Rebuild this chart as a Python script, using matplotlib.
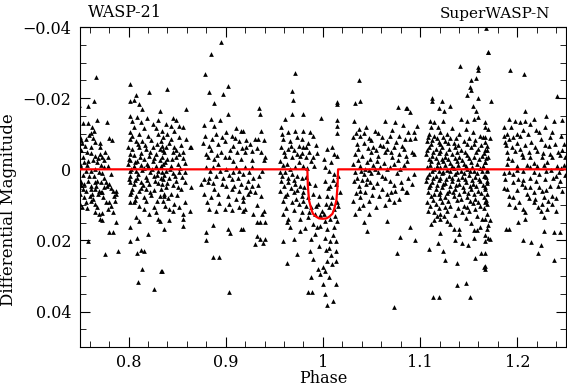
import numpy as np
import matplotlib
matplotlib.use("Agg")
import matplotlib.pyplot as plt
from matplotlib.ticker import MultipleLocator, FuncFormatter

# (phase, differential magnitude in mmag), night by night
night1 = [(0.767, -25.9), (0.764, -19.2), (0.758, -17.8), (0.749, -18.2), (0.753, -13.1), (0.758, -13.1),
          (0.762, -12.0), (0.768, -13.9), (0.778, -13.2), (0.764, -10.9), (0.750, -9.0), (0.751, -8.3),
          (0.761, -10.1), (0.763, -8.8), (0.756, -8.5), (0.755, -6.5), (0.761, -6.4), (0.771, -7.3),
          (0.771, -6.4), (0.780, -8.8), (0.783, -8.3), (0.751, -5.3), (0.757, -4.8), (0.761, -4.7),
          (0.749, -3.4), (0.753, -3.4), (0.754, -2.0), (0.758, -2.4), (0.766, -3.8), (0.769, -3.2),
          (0.773, -3.4), (0.775, -2.6), (0.779, -3.6), (0.768, -2.0), (0.772, -1.3), (0.775, -0.6),
          (0.751, -0.6), (0.756, 0.4), (0.761, 0.4), (0.766, -0.1), (0.770, 0.8), (0.773, 1.1),
          (0.782, 1.3), (0.749, 2.3), (0.751, 3.7), (0.754, 4.1), (0.758, 3.2), (0.761, 4.6),
          (0.765, 3.7), (0.768, 3.2), (0.772, 3.7), (0.777, 3.7), (0.780, 4.1), (0.749, 5.1),
          (0.753, 5.5), (0.756, 6.0), (0.761, 5.5), (0.765, 5.5), (0.770, 6.0), (0.772, 6.5),
          (0.775, 5.1), (0.778, 4.6), (0.784, 6.0), (0.787, 6.0), (0.750, 6.9), (0.754, 7.9),
          (0.760, 7.4), (0.763, 8.4), (0.769, 6.9), (0.773, 6.5), (0.785, 7.4), (0.787, 6.9),
          (0.756, 9.3), (0.761, 8.8), (0.765, 9.8), (0.777, 9.3), (0.780, 9.3), (0.782, 10.2),
          (0.750, 9.8), (0.752, 10.7), (0.766, 12.1), (0.770, 12.6), (0.773, 12.4), (0.784, 12.1),
          (0.771, 14.0), (0.773, 14.3), (0.787, 14.9), (0.780, 17.7), (0.784, 17.7), (0.758, 20.1),
          (0.776, 23.9), (0.789, 22.9),
          (0.752, -7.5), (0.759, -9.6), (0.765, -7.6), (0.776, -5.0), (0.750, -1.6), (0.757, -1.2),
          (0.763, -2.5), (0.771, -4.4), (0.779, -1.0), (0.753, 1.5), (0.759, 1.8), (0.764, 2.0),
          (0.775, 2.4), (0.751, 4.5), (0.762, 6.8), (0.767, 4.6), (0.774, 7.8), (0.782, 5.2),
          (0.757, 11.0), (0.768, 10.5), (0.779, 11.2), (0.786, 9.0)]

night2 = [(0.801, -23.9), (0.821, -21.7), (0.808, -20.8), (0.802, -19.3), (0.806, -19.5), (0.811, -18.4),
          (0.814, -17.0), (0.802, -15.1), (0.809, -14.6), (0.819, -14.5), (0.832, -16.5), (0.830, -13.9),
          (0.804, -13.7), (0.813, -13.2), (0.825, -12.8), (0.806, -11.8), (0.816, -11.6), (0.828, -11.6),
          (0.801, -10.4), (0.811, -10.0), (0.820, -9.5), (0.830, -10.0), (0.802, -8.5), (0.808, -8.1),
          (0.814, -7.9), (0.823, -8.3), (0.833, -8.1), (0.799, -6.2), (0.804, -5.7), (0.811, -6.4),
          (0.818, -5.7), (0.825, -6.2), (0.832, -5.7), (0.801, -4.3), (0.806, -4.1), (0.813, -4.5),
          (0.821, -3.8), (0.828, -4.3), (0.802, -2.6), (0.809, -2.4), (0.816, -2.9), (0.825, -2.4),
          (0.832, -2.6), (0.799, -1.5), (0.806, -1.0), (0.813, -1.3), (0.820, -0.8), (0.828, -1.0),
          (0.801, 0.4), (0.808, 0.6), (0.814, 0.2), (0.822, 0.8), (0.830, 0.6), (0.802, 1.8),
          (0.809, 2.3), (0.818, 2.1), (0.826, 1.8), (0.833, 2.3), (0.801, 3.7), (0.806, 4.1),
          (0.813, 3.7), (0.821, 4.1), (0.830, 3.9), (0.804, 5.5), (0.811, 6.0), (0.818, 5.4),
          (0.826, 5.8), (0.801, 6.9), (0.808, 7.4), (0.816, 7.9), (0.823, 7.1), (0.832, 7.4),
          (0.801, 9.3), (0.806, 9.3), (0.811, 10.2), (0.816, 11.2), (0.821, 12.6), (0.828, 12.1),
          (0.830, 14.0), (0.808, 13.5), (0.811, 14.5), (0.801, 16.3), (0.820, 18.2), (0.809, 19.2),
          (0.801, 20.1), (0.813, 22.7), (0.816, 22.9), (0.809, 23.4), (0.814, 28.1), (0.833, 28.5),
          (0.810, 31.8), (0.826, 33.7),
          (0.840, -22.6), (0.859, -17.0), (0.846, -14.5), (0.849, -13.9), (0.839, -12.8), (0.844, -12.3),
          (0.852, -12.3), (0.834, -10.9), (0.840, -10.0), (0.847, -10.9), (0.856, -11.8), (0.835, -9.0),
          (0.844, -8.5), (0.852, -9.0), (0.859, -8.5), (0.834, -6.7), (0.839, -6.2), (0.847, -6.4),
          (0.854, -6.9), (0.864, -6.2), (0.837, -4.8), (0.846, -4.8), (0.852, -4.3), (0.863, -6.2),
          (0.834, -3.4), (0.840, -2.9), (0.849, -3.4), (0.856, -3.2), (0.835, -1.5), (0.844, -1.0),
          (0.851, -1.5), (0.858, -1.7), (0.834, 0.8), (0.839, 0.4), (0.846, 1.1), (0.852, 0.8),
          (0.858, 0.8), (0.835, 2.7), (0.842, 2.3), (0.849, 3.2), (0.864, 4.9), (0.834, 4.1),
          (0.839, 5.1), (0.851, 5.1), (0.854, 5.5), (0.837, 6.9), (0.844, 6.9), (0.835, 8.8),
          (0.847, 9.8), (0.858, 9.3), (0.842, 11.2), (0.846, 11.6), (0.863, 11.6), (0.832, 14.5),
          (0.842, 14.3), (0.856, 12.6), (0.856, 14.0), (0.856, 15.9), (0.837, 16.8), (0.834, 28.5),
          (0.804, -9.3), (0.810, -7.0), (0.817, -6.8), (0.822, -5.0), (0.829, -7.2), (0.835, -5.5),
          (0.842, -7.5), (0.849, -5.5), (0.856, -4.9), (0.800, -3.0), (0.807, -2.0), (0.812, -3.4),
          (0.819, -1.5), (0.826, -3.3), (0.833, -1.0), (0.838, -2.2), (0.845, -2.8), (0.853, -0.4),
          (0.803, -0.2), (0.810, 1.2), (0.816, -0.3), (0.824, 0.0), (0.829, 1.5), (0.836, 1.6),
          (0.843, 0.0), (0.848, 1.9), (0.855, 2.2), (0.800, 2.8), (0.807, 3.0), (0.815, 4.5),
          (0.819, 3.0), (0.827, 3.2), (0.833, 5.6), (0.840, 3.8), (0.846, 4.4), (0.858, 3.6),
          (0.803, 6.5), (0.813, 5.2), (0.822, 6.4), (0.829, 8.8), (0.836, 7.6), (0.841, 8.2),
          (0.850, 7.3), (0.807, 8.5), (0.818, 9.0), (0.826, 10.6), (0.838, 10.2), (0.852, 10.5)]

night3 = [(0.895, -35.8), (0.885, -32.5), (0.879, -26.9), (0.883, -21.7), (0.897, -21.2), (0.902, -23.3),
          (0.888, -18.6), (0.902, -15.6), (0.885, -14.2), (0.894, -13.9), (0.878, -12.6), (0.888, -12.3),
          (0.911, -11.6), (0.900, -10.4), (0.906, -9.5), (0.916, -10.9), (0.890, -10.0), (0.877, -7.3),
          (0.883, -6.7), (0.892, -7.1), (0.899, -8.1), (0.907, -6.7), (0.914, -8.1), (0.885, -5.3),
          (0.895, -4.8), (0.904, -5.3), (0.912, -4.8), (0.882, -3.4), (0.888, -2.9), (0.899, -3.4),
          (0.907, -2.4), (0.916, -2.9), (0.880, -0.6), (0.887, -0.6), (0.894, 0.6), (0.900, -0.1),
          (0.907, 0.8), (0.914, 0.4), (0.883, 2.3), (0.890, 1.8), (0.897, 2.3), (0.906, 2.7),
          (0.913, 2.3), (0.875, 4.1), (0.882, 3.7), (0.888, 5.5), (0.900, 4.6), (0.909, 4.6),
          (0.916, 4.1), (0.878, 6.9), (0.885, 7.9), (0.892, 6.9), (0.902, 7.4), (0.911, 8.4),
          (0.883, 11.2), (0.890, 11.6), (0.899, 11.2), (0.906, 11.5), (0.914, 10.7), (0.887, 15.6),
          (0.880, 17.5), (0.902, 16.8), (0.904, 18.0), (0.916, 16.8), (0.880, 19.9), (0.887, 24.6),
          (0.893, 24.6), (0.903, 34.6),
          (0.934, -17.3), (0.935, -15.6), (0.918, -10.9), (0.936, -10.9), (0.930, -8.5), (0.933, -8.4),
          (0.939, -8.3), (0.925, -7.1), (0.921, -6.4), (0.920, -4.8), (0.927, -5.1), (0.940, -3.4),
          (0.939, -2.6), (0.920, -0.6), (0.927, -0.6), (0.937, 0.4), (0.918, 1.3), (0.923, 3.2),
          (0.928, 2.3), (0.921, 5.1), (0.925, 6.0), (0.930, 6.5), (0.933, 4.3), (0.918, 7.9),
          (0.923, 6.9), (0.918, 11.6), (0.920, 11.2), (0.928, 12.6), (0.939, 11.6), (0.937, 12.6),
          (0.918, 16.8), (0.932, 14.9), (0.935, 14.9), (0.940, 14.9), (0.932, 18.7), (0.935, 19.6),
          (0.930, 21.0), (0.940, 19.6), (0.938, 20.8),
          (0.879, -9.3), (0.886, -8.5), (0.896, -9.0), (0.910, -8.8), (0.921, -8.3), (0.932, -6.0),
          (0.880, -4.4), (0.891, -4.0), (0.903, -3.6), (0.917, -6.0), (0.927, -2.7), (0.936, -5.0),
          (0.884, 0.6), (0.892, -1.6), (0.903, 1.6), (0.911, -0.6), (0.924, 0.8), (0.934, 1.8),
          (0.878, 2.8), (0.887, 3.8), (0.896, 4.0), (0.906, 5.6), (0.914, 6.2), (0.927, 4.8),
          (0.936, 7.5), (0.881, 9.2), (0.893, 9.6), (0.903, 9.8), (0.918, 9.0), (0.932, 10.0)]

night4 = [(0.971, -27.0), (0.968, -22.0), (0.969, -19.6), (0.968, -15.6), (0.980, -15.6), (0.998, -14.5),
          (0.961, -14.2), (0.957, -11.8), (0.964, -10.4), (0.971, -10.7), (0.980, -10.9), (0.987, -10.4),
          (0.990, -9.5), (0.978, -8.5), (0.959, -8.5), (0.975, -6.7), (0.980, -6.2), (0.983, -6.4),
          (0.957, -6.2), (0.964, -5.7), (0.970, -5.3), (0.961, -3.8), (0.968, -3.4), (0.976, -3.8),
          (0.983, -3.4), (0.988, -2.4), (0.990, -3.6), (0.956, -2.4), (0.963, -1.5), (0.971, -0.6),
          (0.980, -1.0), (0.956, 0.8), (0.961, 0.8), (0.968, 1.3), (0.973, 1.8), (0.978, 2.3),
          (0.983, 2.1), (0.957, 3.2), (0.964, 3.7), (0.971, 4.1), (0.976, 4.6), (0.981, 5.1),
          (0.956, 6.0), (0.963, 6.9), (0.970, 6.5), (0.978, 7.4), (0.985, 7.9), (0.990, 6.9),
          (0.959, 8.8), (0.968, 9.3), (0.975, 9.8), (0.983, 10.2), (0.988, 10.7), (0.995, 9.8),
          (0.999, 11.6), (0.992, 12.6), (0.959, 12.6), (0.964, 14.0), (0.963, 14.9), (0.976, 14.0),
          (0.985, 13.5), (0.990, 15.4), (0.994, 16.3), (0.997, 15.9), (0.976, 17.3), (0.988, 19.6),
          (0.959, 20.1), (0.973, 23.9), (0.987, 22.9), (0.963, 26.2), (0.990, 25.3), (0.995, 28.1),
          (0.988, 30.4), (1.000, 27.6), (0.997, 29.5), (0.985, 34.6), (0.989, 34.6), (1.000, 32.3),
          (1.015, -18.9), (1.014, -18.4), (1.015, -13.9), (1.014, -12.3), (1.015, -10.1), (1.009, -6.4),
          (1.004, -5.7), (1.011, -4.3), (1.014, -3.8), (1.002, -0.6), (1.006, 0.4), (1.011, 1.3),
          (1.002, 3.2), (1.007, 4.6), (1.013, 4.1), (1.018, 6.5), (1.004, 7.4), (1.009, 7.9),
          (1.014, 9.3), (1.006, 10.7), (1.011, 11.2), (1.002, 14.5), (1.007, 14.0), (1.014, 14.5),
          (1.004, 16.8), (1.011, 16.3), (1.002, 19.2), (1.007, 20.1), (1.013, 20.1), (1.006, 22.0),
          (1.013, 22.9), (1.004, 25.7), (1.009, 26.7), (1.013, 25.7), (1.002, 28.5), (1.006, 30.4),
          (1.013, 32.3), (1.002, 35.1), (1.010, 37.0), (1.004, 38.1),
          (0.958, -10.0), (0.966, -8.0), (0.973, -9.2), (0.985, -7.5), (0.993, -6.8), (0.960, -4.9),
          (0.967, -6.6), (0.973, -4.2), (0.979, -4.6), (0.986, -5.0), (0.994, -4.5), (0.959, -1.2),
          (0.966, -0.2), (0.975, -2.0), (0.984, -0.5), (0.991, -0.8), (0.958, 1.9), (0.964, 2.4),
          (0.970, 2.9), (0.986, 3.8), (0.992, 4.5), (0.960, 4.8), (0.967, 5.3), (0.973, 5.7),
          (0.980, 6.3), (0.996, 7.5), (0.961, 7.6), (0.972, 8.3), (0.980, 9.0), (0.993, 10.3),
          (0.997, 12.9), (0.962, 11.0), (0.970, 11.4), (0.978, 12.0), (0.986, 12.1), (0.966, 16.1),
          (0.982, 16.4), (0.992, 18.2), (0.970, 19.5), (0.996, 21.5), (1.001, 12.5), (1.008, 9.4),
          (1.012, 13.0), (1.016, 10.2), (1.003, 9.8), (1.005, 5.2), (1.010, 3.0), (1.016, 2.0),
          (1.001, -3.0), (1.008, -2.0), (1.003, 22.8), (1.010, 18.6), (1.008, 24.2)]

night5 = [(1.037, -25.0), (1.033, -18.6), (1.038, -19.2), (1.077, -17.5), (1.085, -17.3), (1.032, -13.5),
          (1.044, -11.8), (1.064, -13.7), (1.074, -13.2), (1.037, -11.4), (1.054, -10.9), (1.071, -11.1),
          (1.082, -12.6), (1.031, -9.0), (1.038, -9.5), (1.047, -8.8), (1.061, -9.2), (1.069, -9.5),
          (1.078, -9.5), (1.035, -7.1), (1.042, -7.3), (1.052, -6.4), (1.059, -6.9), (1.066, -5.7),
          (1.073, -6.2), (1.081, -6.7), (1.033, -4.3), (1.040, -3.8), (1.049, -4.8), (1.057, -3.8),
          (1.064, -4.8), (1.071, -3.4), (1.078, -4.3), (1.085, -3.8), (1.031, -1.5), (1.038, -1.0),
          (1.045, -2.0), (1.052, -1.3), (1.059, -0.6), (1.069, -0.6), (1.079, -0.1), (1.033, 0.8),
          (1.042, 1.3), (1.050, 1.1), (1.057, 0.8), (1.035, 2.3), (1.045, 2.7), (1.064, 2.4),
          (1.037, 4.6), (1.044, 4.1), (1.052, 5.1), (1.061, 5.5), (1.069, 3.2), (1.085, 6.5),
          (1.038, 6.0), (1.066, 6.9), (1.074, 6.0), (1.031, 8.8), (1.038, 7.9), (1.047, 8.8),
          (1.068, 8.4), (1.073, 9.3), (1.078, 8.4), (1.033, 12.6), (1.047, 12.6), (1.066, 14.5),
          (1.042, 14.9), (1.045, 17.3), (1.079, 19.0), (1.076, 23.4), (1.073, 38.6),
          (1.087, -17.3), (1.090, -16.1), (1.097, -12.3), (1.088, -10.4), (1.094, -10.4), (1.090, -8.5),
          (1.095, -8.8), (1.092, -4.8), (1.094, -4.3), (1.087, -2.4), (1.094, 1.3), (1.088, 2.3),
          (1.092, 4.1), (1.087, 6.5), (1.090, 16.2), (1.095, 19.9),
          (1.034, -10.3), (1.042, -10.1), (1.050, -8.2), (1.057, -10.2), (1.066, -8.0), (1.075, -7.8),
          (1.084, -8.5), (1.036, -5.6), (1.046, -6.1), (1.055, -5.3), (1.062, -6.6), (1.070, -5.0),
          (1.077, -2.6), (1.083, -5.6), (1.036, -2.6), (1.043, -0.2), (1.048, -2.9), (1.056, -2.3),
          (1.063, -1.8), (1.073, -1.6), (1.083, -1.2), (1.039, 0.4), (1.047, 0.1), (1.054, -0.2),
          (1.061, 1.8), (1.066, -0.1), (1.076, 1.0), (1.032, 3.2), (1.040, 3.0), (1.048, 3.6),
          (1.056, 3.9), (1.073, 4.4), (1.080, 3.6), (1.034, 6.6), (1.043, 6.4), (1.051, 7.2),
          (1.058, 7.6), (1.070, 6.3), (1.081, 5.3), (1.041, 10.0), (1.055, 10.5), (1.064, 10.1),
          (1.037, 11.0)]

night6 = [(1.141, -29.0), (1.160, -28.7), (1.160, -27.8), (1.170, -33.0), (1.158, -25.7), (1.152, -25.0),
          (1.151, -23.1), (1.152, -22.2), (1.148, -20.8), (1.160, -20.1), (1.112, -20.1), (1.112, -19.2),
          (1.123, -19.2), (1.131, -17.9), (1.119, -17.3), (1.125, -16.5), (1.154, -17.9), (1.158, -16.3),
          (1.155, -14.2), (1.142, -14.1), (1.148, -13.7), (1.160, -14.6), (1.110, -13.5), (1.114, -13.2),
          (1.124, -13.7), (1.111, -12.0), (1.118, -11.8), (1.133, -11.6), (1.147, -11.4), (1.167, -11.8),
          (1.109, -10.0), (1.114, -9.5), (1.121, -10.4), (1.128, -10.0), (1.140, -10.0), (1.154, -10.4),
          (1.162, -9.5), (1.107, -8.1), (1.112, -8.3), (1.119, -7.6), (1.126, -8.1), (1.135, -7.3),
          (1.145, -8.1), (1.157, -8.3), (1.167, -7.6), (1.109, -6.2), (1.116, -5.7), (1.123, -6.4),
          (1.130, -5.7), (1.136, -6.2), (1.142, -5.5), (1.152, -6.2), (1.160, -5.7), (1.169, -5.3),
          (1.106, -4.3), (1.112, -3.8), (1.119, -4.5), (1.126, -3.4), (1.133, -4.3), (1.140, -3.4),
          (1.148, -4.1), (1.155, -3.4), (1.164, -3.8), (1.111, -2.4), (1.118, -2.0), (1.124, -2.4),
          (1.131, -1.7), (1.138, -2.3), (1.145, -1.5), (1.152, -2.0), (1.159, -1.5), (1.167, -2.0),
          (1.107, -0.6), (1.114, -0.1), (1.121, -0.6), (1.128, 0.2), (1.135, -0.4), (1.142, 0.4),
          (1.148, -0.1), (1.155, 0.4), (1.162, -0.4), (1.169, 0.2), (1.109, 1.3), (1.116, 1.8),
          (1.123, 1.1), (1.130, 1.8), (1.136, 1.3), (1.143, 2.1), (1.150, 1.5), (1.157, 2.1),
          (1.166, 1.8), (1.106, 3.2), (1.112, 3.7), (1.119, 3.0), (1.126, 3.9), (1.133, 3.4),
          (1.140, 4.1), (1.147, 3.7), (1.154, 4.1), (1.162, 3.4), (1.169, 3.9), (1.109, 5.1),
          (1.116, 5.5), (1.123, 5.1), (1.130, 6.0), (1.136, 5.5), (1.145, 6.0), (1.152, 5.5),
          (1.160, 6.2), (1.167, 5.5), (1.111, 7.4), (1.119, 6.9), (1.126, 7.9), (1.135, 7.4),
          (1.142, 8.4), (1.148, 7.7), (1.157, 8.4), (1.166, 7.9), (1.107, 9.3), (1.116, 9.8),
          (1.123, 9.3), (1.131, 10.2), (1.145, 10.2), (1.154, 9.6), (1.162, 10.2), (1.169, 9.8),
          (1.108, 11.6), (1.114, 12.1), (1.121, 12.6), (1.128, 11.6), (1.143, 12.1), (1.150, 11.8),
          (1.159, 13.1), (1.169, 12.6), (1.114, 14.3), (1.121, 14.0), (1.128, 14.5), (1.135, 16.8),
          (1.140, 16.8), (1.155, 17.1), (1.159, 17.1), (1.169, 16.8), (1.109, 22.4), (1.118, 20.8),
          (1.124, 22.9), (1.126, 25.5), (1.136, 19.9), (1.143, 20.6), (1.149, 21.2), (1.155, 19.2),
          (1.138, 26.2), (1.157, 25.0), (1.163, 23.4), (1.166, 27.6), (1.167, 20.1), (1.138, 32.5),
          (1.147, 32.1), (1.113, 35.8), (1.119, 35.8), (1.151, 35.8),
          (1.108, -9.0), (1.117, -8.8), (1.124, -9.1), (1.131, -8.9), (1.137, -8.8), (1.150, -8.9),
          (1.165, -9.2), (1.111, -7.1), (1.121, -7.0), (1.129, -7.3), (1.139, -6.8), (1.148, -7.0),
          (1.155, -7.2), (1.163, -6.9), (1.107, -5.3), (1.113, -4.8), (1.121, -5.1), (1.127, -4.7),
          (1.138, -4.8), (1.146, -5.0), (1.158, -4.9), (1.166, -4.6), (1.109, -3.0), (1.116, -3.2),
          (1.123, -2.9), (1.129, -3.0), (1.136, -3.1), (1.143, -2.6), (1.150, -3.1), (1.161, -2.8),
          (1.168, -3.3), (1.110, -1.3), (1.117, -0.9), (1.126, -1.1), (1.133, -0.8), (1.139, -1.1),
          (1.147, -0.9), (1.153, -0.7), (1.165, -0.9), (1.112, 0.6), (1.119, 0.4), (1.124, 0.7),
          (1.131, 0.5), (1.138, 0.8), (1.145, 1.0), (1.151, 0.6), (1.159, 0.9), (1.164, 0.5),
          (1.107, 2.2), (1.113, 2.5), (1.120, 2.4), (1.127, 2.8), (1.133, 2.3), (1.139, 2.6),
          (1.146, 2.8), (1.153, 2.9), (1.161, 2.6), (1.168, 2.2), (1.110, 4.3), (1.117, 4.5),
          (1.124, 4.2), (1.131, 4.7), (1.137, 4.4), (1.144, 4.9), (1.151, 4.6), (1.158, 4.8),
          (1.165, 4.4), (1.108, 6.4), (1.114, 6.8), (1.121, 6.3), (1.128, 6.7), (1.134, 6.4),
          (1.140, 6.9), (1.149, 6.6), (1.155, 7.0), (1.163, 6.6), (1.113, 8.5), (1.120, 8.2),
          (1.129, 8.8), (1.138, 8.6), (1.151, 8.9), (1.160, 9.1), (1.168, 8.5), (1.110, 10.4),
          (1.119, 10.9), (1.126, 10.6), (1.139, 11.0), (1.148, 10.6), (1.157, 11.2), (1.166, 11.0),
          (1.117, 13.0), (1.125, 13.2), (1.136, 12.9), (1.147, 13.6), (1.164, 14.1), (1.111, 15.3),
          (1.131, 15.5), (1.152, 15.2), (1.162, 16.1), (1.167, 18.5), (1.140, 18.3), (1.121, 18.0)]

night7 = [(1.168, -39.8), (1.170, -33.0), (1.193, -27.8), (1.207, -26.9), (1.173, -19.2), (1.241, -20.5),
          (1.208, -16.3), (1.191, -14.2), (1.198, -13.7), (1.217, -14.2), (1.230, -15.1), (1.238, -13.7),
          (1.246, -13.9), (1.167, -13.2), (1.186, -11.8), (1.194, -12.0), (1.203, -13.2), (1.208, -13.5),
          (1.213, -12.8), (1.229, -12.0), (1.170, -11.4), (1.189, -10.0), (1.200, -10.0), (1.206, -11.1),
          (1.222, -10.4), (1.236, -10.4), (1.167, -9.0), (1.172, -8.8), (1.186, -9.5), (1.196, -9.0),
          (1.203, -9.5), (1.224, -8.5), (1.234, -9.0), (1.169, -6.7), (1.188, -6.9), (1.200, -7.3),
          (1.208, -6.9), (1.218, -6.2), (1.229, -6.9), (1.239, -7.1), (1.167, -5.3), (1.189, -4.8),
          (1.198, -5.1), (1.205, -4.3), (1.212, -4.8), (1.220, -5.1), (1.234, -4.3), (1.242, -4.8),
          (1.246, -5.4), (1.170, -3.4), (1.206, -3.4), (1.213, -3.6), (1.225, -3.4), (1.236, -3.6),
          (1.244, -4.1), (1.167, -2.0), (1.189, -1.5), (1.200, -1.0), (1.210, -1.3), (1.217, -1.7),
          (1.220, -0.8), (1.227, -1.3), (1.241, -1.0), (1.248, -1.3), (1.169, 0.4), (1.186, 1.1),
          (1.191, 0.8), (1.196, 1.3), (1.206, 0.4), (1.217, 0.8), (1.230, 0.4), (1.243, 0.8),
          (1.167, 1.8), (1.201, 2.7), (1.206, 3.0), (1.213, 2.3), (1.229, 2.7), (1.237, 2.3),
          (1.244, 3.2), (1.169, 3.2), (1.205, 4.1), (1.213, 5.1), (1.222, 4.9), (1.234, 4.6),
          (1.242, 4.6), (1.167, 5.1), (1.189, 5.5), (1.200, 5.8), (1.210, 6.9), (1.217, 6.5),
          (1.225, 6.0), (1.236, 7.4), (1.169, 6.9), (1.191, 7.4), (1.218, 8.4), (1.227, 7.9),
          (1.232, 8.8), (1.167, 9.3), (1.191, 9.8), (1.198, 10.7), (1.206, 11.2), (1.217, 9.3),
          (1.225, 9.8), (1.236, 9.8), (1.240, 11.8), (1.208, 12.1), (1.224, 11.6), (1.227, 13.5),
          (1.208, 14.0), (1.167, 14.0), (1.172, 14.3), (1.170, 15.6), (1.188, 16.8), (1.192, 16.8),
          (1.201, 14.9), (1.228, 17.3), (1.238, 17.5), (1.244, 17.5), (1.170, 19.2), (1.172, 19.6),
          (1.206, 19.9), (1.214, 20.3), (1.224, 21.3), (1.167, 23.4), (1.221, 23.4), (1.238, 25.4),
          (1.167, 27.1), (1.167, 28.1),
          (1.192, -8.5), (1.211, -9.8), (1.219, -11.2), (1.245, -9.3), (1.195, -6.4), (1.214, -7.6),
          (1.233, -6.5), (1.248, -7.2), (1.203, -5.6), (1.226, -4.6), (1.249, -3.6), (1.195, -2.5),
          (1.213, -0.6), (1.231, -2.2), (1.245, -0.3), (1.200, 0.2), (1.222, 1.2), (1.235, 0.2),
          (1.249, 1.5), (1.196, 3.5), (1.219, 3.3), (1.240, 2.0), (1.186, 5.3), (1.208, 5.0),
          (1.230, 5.8), (1.246, 6.0), (1.196, 7.8), (1.212, 8.2), (1.240, 8.2), (1.202, 9.3),
          (1.221, 10.6), (1.231, 11.2), (1.187, -7.6), (1.190, -3.2), (1.187, 2.6)]

# transit model
model_phase = [0.75, 0.984, 0.9845, 0.9857, 0.988, 0.9898, 0.993, 0.996, 0.9998, 1.0036, 1.0066,
               1.0098, 1.0116, 1.0139, 1.0151, 1.0156, 1.25]
model_mag = [0.0, 0.0, 0.0045, 0.0087, 0.0112, 0.0125, 0.0133, 0.0138, 0.0139, 0.0138, 0.0133,
             0.0125, 0.0112, 0.0087, 0.0045, 0.0, 0.0]

nights = [night1, night2, night3, night4, night5, night6, night7]

plt.rcParams['font.family'] = ['DejaVu Serif']
plt.rcParams['font.size'] = 10


def tick_fmt(v, pos):
    # short labels like 0.8, 1, -0.02 with a proper minus sign
    return ('%g' % round(v, 6)).replace('-', '\u2212')


fig = plt.figure(figsize=(5.67, 3.87), dpi=100)
ax = fig.add_axes([0.141, 0.103, 0.857, 0.827])

for night in nights:
    ph = [p for p, m in night]
    dm = [m / 1000.0 for p, m in night]
    ax.plot(ph, dm, linestyle='none', marker='^', color='black', markersize=3.4,
            markeredgewidth=0)

ax.plot(model_phase, model_mag, color='red', linewidth=1.6, zorder=5)

ax.set_xlim(0.75, 1.25)
ax.set_ylim(0.05, -0.04)
ax.xaxis.set_major_locator(MultipleLocator(0.1))
ax.xaxis.set_minor_locator(MultipleLocator(0.02))
ax.yaxis.set_major_locator(MultipleLocator(0.02))
ax.yaxis.set_minor_locator(MultipleLocator(0.005))
ax.xaxis.set_major_formatter(FuncFormatter(tick_fmt))
ax.yaxis.set_major_formatter(FuncFormatter(tick_fmt))
ax.tick_params(which='both', direction='in', top=True, right=True, labelsize=11.5)
ax.tick_params(which='major', length=7)
ax.tick_params(which='minor', length=4)
ax.tick_params(axis='x', which='major', pad=5)
ax.tick_params(axis='y', which='major', pad=6)

ax.set_xlabel('Phase', fontsize=11.5, labelpad=-1)
ax.set_ylabel('Differential Magnitude', fontsize=12)
ax.yaxis.set_label_coords(-0.130, 0.43)
ax.text(0.016, 1.02, 'WASP-21', transform=ax.transAxes, ha='left', va='bottom', fontsize=11.5)
ax.text(0.967, 1.02, 'SuperWASP-N', transform=ax.transAxes, ha='right', va='bottom', fontsize=11)

fig.savefig('out.png', dpi=100)
